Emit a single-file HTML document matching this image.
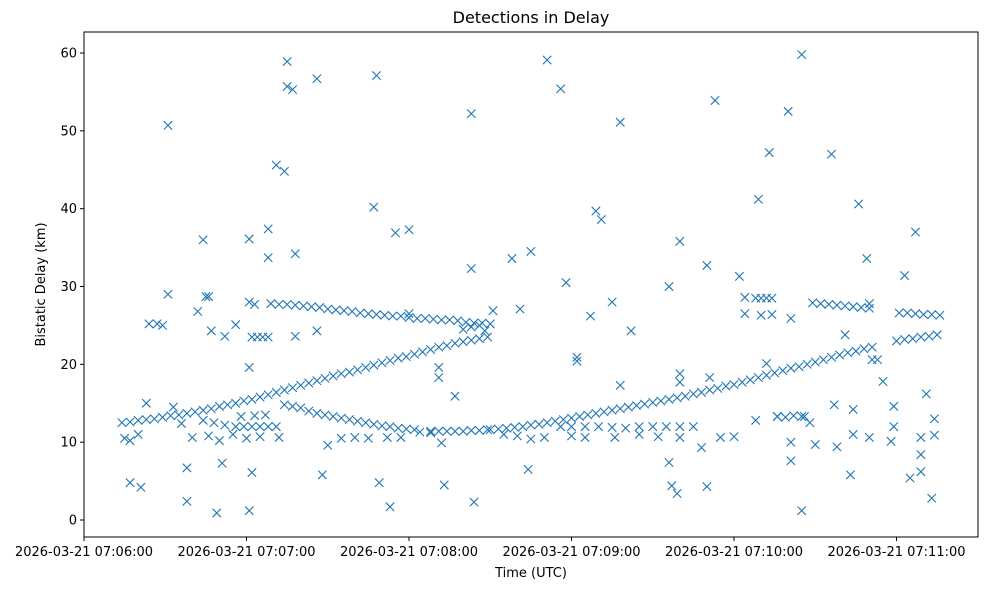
<!DOCTYPE html>
<html><head><meta charset="utf-8"><style>
body{margin:0;background:#fff;}
svg{display:block;font-family:"DejaVu Sans","Liberation Sans",sans-serif;}
</style></head><body>
<svg id="chart" width="987" height="590"></svg>
<script>
// Times: seconds after 2026-03-21 07:06:00 UTC; delays in km
const trackA_t=[14,17,20,23,26,29,32,35,38,41,44,47,50,53,56,59,62,65,68,71,74,77,80,83,86,89,92,95,98,101,104,107,110,113,116,119,122,125,128,131,134,137,140,143,146,149];
const trackA_v=[12.5,12.6,12.8,12.9,13.0,13.2,13.4,13.5,13.7,13.9,14.1,14.3,14.6,14.8,15.0,15.3,15.5,15.8,16.1,16.4,16.7,17.0,17.3,17.6,17.9,18.2,18.5,18.8,19.0,19.3,19.6,19.9,20.2,20.5,20.8,21.0,21.3,21.6,21.9,22.2,22.4,22.7,22.9,23.1,23.3,23.5];
const trackB_t=[150,153,156,159,162,165,168,171,174,177,180,183,186,189,192,195,198,201,204,207,210,213,216,219,222,225,228,231,234,237,240,243,246,249,252,255,258,261,264,267,270,273,276,279,282,285,288,291,300,303,306,309,312,315];
const trackB_v=[11.6,11.7,11.8,11.9,12.0,12.2,12.3,12.5,12.7,12.9,13.1,13.3,13.5,13.7,13.9,14.1,14.3,14.5,14.7,14.9,15.1,15.3,15.5,15.7,15.9,16.2,16.4,16.7,16.9,17.2,17.4,17.7,18.0,18.3,18.6,18.9,19.2,19.5,19.7,20.0,20.3,20.6,20.9,21.2,21.5,21.7,22.0,22.2,23.0,23.2,23.3,23.5,23.6,23.8];
const trackC_t=[69,72,75,78,81,84,87,90,93,96,99,102,105,108,111,114,117,120,123,126,129,132,135,138,141,144,147,150];
const trackC_v=[27.8,27.7,27.7,27.6,27.5,27.4,27.3,27.1,27.0,26.9,26.8,26.6,26.5,26.4,26.3,26.2,26.2,26.0,25.9,25.9,25.8,25.7,25.7,25.6,25.4,25.3,25.3,25.2];
const trackD_t=[74,77,80,83,86,89,92,95,98,101,104,107,110,113,116,119,122,128,131,134,137,140,143,146,149,56,59,62,65,68,71,176,180,185,190,195,200,205,210,215,220,225];
const trackD_v=[14.8,14.6,14.4,14.0,13.7,13.5,13.3,13.1,12.9,12.7,12.5,12.3,12.1,12.0,11.8,11.7,11.6,11.4,11.4,11.4,11.4,11.4,11.5,11.5,11.6,12,12,12,12,12,12,12,12,12,12,11.9,11.8,12,12,12,12,12];
const trackE_t=[269,272,275,278,281,284,287,290,301,304,307,310,313,316,248,250,252,254,62,64,66,68,140,143,146,148];
const trackE_v=[27.9,27.8,27.7,27.6,27.5,27.4,27.3,27.2,26.6,26.6,26.5,26.4,26.4,26.3,28.5,28.5,28.5,28.5,23.5,23.5,23.5,23.5,24.5,24.8,25.0,24.3];
const scatter_t=[24,17,21,27,29,31,31,23,15,17,20,33,38,38,42,44,45,46,47,49,51,52,56,61,61,61,62,61,63,68,68,71,74,75,75,77,78,78,86,86,88,107,108,109,113,115,120,120,131,131,133,137,143,143,144,151,158,164,165,161,171,176,178,182,182,187,189,191,195,198,198,202,216,216,217,219,220,220,220,230,230,231,233,242,244,244,249,250,252,253,254,260,261,261,261,265,265,268,276,277,281,284,283,286,289,290,291,293,295,299,299,303,305,307,309,309,311,313,314,314,309];
const scatter_v=[25.2,4.8,4.2,25.2,25,50.7,29,15,10.5,10.2,11,14.5,2.4,6.7,26.8,36,28.7,28.7,24.3,0.9,7.3,23.6,25.1,36.1,19.6,28,6.1,1.2,27.7,33.7,37.4,45.6,44.8,58.9,55.7,55.3,34.2,23.6,56.7,24.3,5.8,40.2,57.1,4.8,1.7,36.9,37.3,26.5,19.6,18.3,4.5,15.9,52.2,32.3,2.3,26.9,33.6,6.5,34.5,27.1,59.1,55.4,30.5,20.4,20.9,26.2,39.7,38.6,28,17.3,51.1,24.3,7.4,30,4.4,3.4,18.8,17.7,35.8,4.3,32.7,18.3,53.9,31.3,28.6,26.5,41.2,26.3,20.1,47.2,26.4,52.5,25.9,7.6,10,59.8,1.2,12.5,47,14.8,23.8,14.2,5.8,40.6,33.6,27.8,20.6,20.6,17.8,14.6,12,31.4,5.4,37,8.4,6.2,16.2,2.8,13,10.9,10.6];
const row_t=[40,46,50,55,60,65,72,90,95,100,105,112,117,124,128,132,155,160,165,170,180,185,196,205,212,220,228,235,240,248,256,265,270,278,284,290,298,58,63,67,256,259,262,266,48,52,36,44];
const row_v=[10.6,10.8,10.2,11,10.5,10.7,10.6,9.6,10.5,10.6,10.5,10.6,10.6,11.3,11.2,9.9,11,10.8,10.4,10.6,10.8,10.6,10.6,11,10.7,10.6,9.3,10.6,10.7,12.8,13.3,13.3,9.7,9.4,11,10.6,10.1,13.3,13.4,13.5,13.3,13.2,13.4,13.3,12.5,12.2,12.4,12.8];
const xTickVals=[0,60,120,180,240,300];
const xTickLabels=["2026-03-21 07:06:00","2026-03-21 07:07:00","2026-03-21 07:08:00","2026-03-21 07:09:00","2026-03-21 07:10:00","2026-03-21 07:11:00"];
const yTickVals=[0,10,20,30,40,50,60];

const NS="http://www.w3.org/2000/svg";
const svg=document.getElementById('chart');
const L=84,R=978,T=32,B=537;
const xs=t=>84+t*162.5/60;
const ys=v=>520-v*(467/60);
function mk(tag,attrs,parent){const e=document.createElementNS(NS,tag);for(const k in attrs)e.setAttribute(k,attrs[k]);(parent||svg).appendChild(e);return e;}

const title=mk('text',{x:(L+R)/2,y:23,'text-anchor':'middle','font-size':16,fill:'#000'});


title.textContent='Detections in Delay';

const pts=mk('g',{stroke:'#1f77b4','stroke-width':1.1,fill:'none'});


function plot(ta,va){for(let i=0;i<ta.length;i++){const x=xs(ta[i]),y=ys(va[i]),s=4.2;
 const p=mk('path',{d:`M${x-s},${y-s}L${x+s},${y+s}M${x-s},${y+s}L${x+s},${y-s}`},pts);
 
 }}
plot(trackA_t,trackA_v);plot(trackB_t,trackB_v);plot(trackC_t,trackC_v);plot(trackD_t,trackD_v);plot(trackE_t,trackE_v);plot(scatter_t,scatter_v);plot(row_t,row_v);

const frame=mk('rect',{x:L,y:T,width:R-L,height:B-T,fill:'none',stroke:'#000','stroke-width':1});



xTickVals.forEach((v,i)=>{const x=xs(v);
 mk('line',{x1:x,x2:x,y1:B,y2:B+4,stroke:'#000'});
 const t=mk('text',{x:x,y:B+19,'text-anchor':'middle','font-size':13,fill:'#000'});
 
 
 t.textContent=xTickLabels[i];});
yTickVals.forEach(v=>{const y=ys(v);
 mk('line',{x1:L-4,x2:L,y1:y,y2:y,stroke:'#000'});
 const t=mk('text',{x:L-7,y:y+4.5,'text-anchor':'end','font-size':13,fill:'#000'});
 
 
 t.textContent=v;});

const xl=mk('text',{x:(L+R)/2,y:577,'text-anchor':'middle','font-size':13,fill:'#000'});


xl.textContent='Time (UTC)';
const yl=mk('text',{x:0,y:0,'text-anchor':'middle','font-size':13,fill:'#000',transform:`translate(45,${(T+B)/2}) rotate(-90)`});


yl.textContent='Bistatic Delay (km)';
</script>
</body></html>
